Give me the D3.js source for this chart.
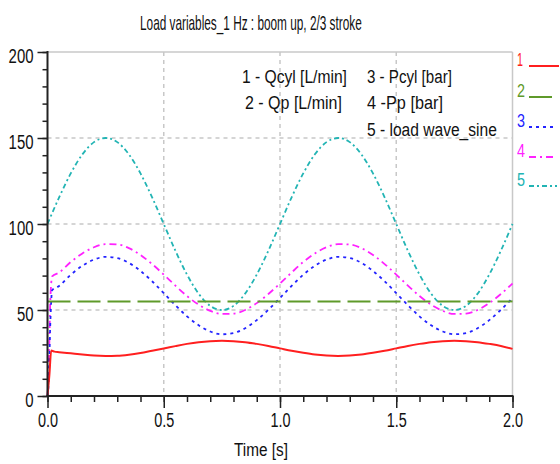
<!DOCTYPE html>
<html><head><meta charset="utf-8">
<script src="https://cdn.jsdelivr.net/npm/d3@7"></script>
<style>
html,body{margin:0;padding:0;background:#fff;}
svg{display:block;font-family:"Liberation Sans Narrow","Arial Narrow","Liberation Sans",Arial,sans-serif;}
</style></head>
<body><svg id="c" width="560" height="464"></svg>
<script>
const title = "Load variables_1 Hz : boom up, 2/3 stroke";
const xLabel = "Time [s]";
const xTicks = [0, 0.5, 1.0, 1.5, 2.0];
const yTicks = [0, 50, 100, 150, 200];
const legendIds = ["1","2","3","4","5"];
const seriesColors = ["#ff1f1f","#5f9a2a","#2323ff","#ff22ff","#22b4b4"];
const annotations = ["1 - Qcyl  [L/min]","2 - Qp  [L/min]","3 - Pcyl  [bar]","4 -Pp  [bar]","5 - load wave_sine"];

// sampled time axis (s)
const tMain = [0.05,0.1,0.15,0.2,0.25,0.3,0.35,0.4,0.45,0.5,0.55,0.6,0.65,0.7,0.75,0.8,0.85,0.9,0.95,1.0,
               1.05,1.1,1.15,1.2,1.25,1.3,1.35,1.4,1.45,1.5,1.55,1.6,1.65,1.7,1.75,1.8,1.85,1.9,1.95,2.0];
// 1 - Qcyl
const qcylT0 = [0, 0.008, 0.016, 0.03];
const qcylV0 = [0, 12, 26.5, 25.8];
const qcylV = [25.5,24.8,24.1,23.5,23.3,23.4,24.0,25.0,26.3,27.6,29.0,30.3,31.3,31.9,32.1,31.9,31.3,30.3,29.1,27.7,
               26.3,25.1,24.1,23.5,23.3,23.5,24.1,25.1,26.3,27.7,29.1,30.3,31.3,31.9,32.1,31.9,31.3,30.3,29.1,27.4];
// 2 - Qp
const qpT = [0, 2.0];
const qpV = [55, 55];
// 3 - Pcyl
const pcylT0 = [0, 0.005, 0.012, 0.02];
const pcylV0 = [0, 8, 42, 61.5];
const pcylV = [64.0,70.5,75.7,79.3,80.9,80.2,77.4,72.7,66.7,59.8,52.8,46.3,41.1,37.5,35.9,36.6,39.4,44.1,50.1,57.0,
               64.0,70.5,75.7,79.3,80.9,80.2,77.4,72.7,66.7,59.8,52.8,46.3,41.1,37.5,35.9,36.6,39.4,44.1,50.1,57.0];
// 4 - Pp
const ppT0 = [0, 0.006, 0.012, 0.02];
const ppV0 = [0, 20, 55, 69.5];
const ppV = [71.8,77.9,82.9,86.5,88.3,88.1,86.0,82.0,76.7,70.6,64.2,58.1,53.1,49.5,47.7,47.9,50.0,54.0,59.3,65.4,
             71.8,77.9,82.9,86.5,88.3,88.1,86.0,82.0,76.7,70.6,64.2,58.1,53.1,49.5,47.7,47.9,50.0,54.0,59.3,65.4];
// 5 - load wave_sine
const loadT0 = [0];
const loadV0 = [100];
const loadV = [115.5,129.4,140.5,147.6,150,147.6,140.5,129.4,115.5,100,84.5,70.6,59.5,52.4,50,52.4,59.5,70.6,84.5,100,
               115.5,129.4,140.5,147.6,150,147.6,140.5,129.4,115.5,100,84.5,70.6,59.5,52.4,50,52.4,59.5,70.6,84.5,100];

const svg = d3.select("#c");
const L = 47.5, R = 512.5, T = 52, B = 396;
const x = d3.scaleLinear().domain([0,2]).range([L,R]);
const y = d3.scaleLinear().domain([0,200]).range([B,T]);
const gridCol = "#c8c8c8";
const txtCol = "#111";
function narrowLen(s, digitW){ let w=0; for(const c of s){ w += (c==='.')?digitW*0.45:digitW; } return w; }
// place text horizontally condensed to a target width using a transform
function fitText(str, px, py, size, targetW, color){
  const t = svg.append("text").attr("font-size",size).attr("fill",color).text(str);
  const w = t.node().getComputedTextLength() || targetW;
  t.attr("transform",`translate(${px},${py}) scale(${targetW/w},1)`);
  return t;
}

// title
fitText(title, 140, 30, 20, 222, txtCol);

// grid
const g = svg.append("g");
yTicks.filter(v=>v>0).forEach(v=>{
  g.append("line").attr("x1",L).attr("x2",R).attr("y1",y(v)).attr("y2",y(v))
   .attr("stroke",gridCol).attr("stroke-width",1.5).attr("stroke-dasharray", v===200?null:"4,4");
});
xTicks.filter(v=>v>0).forEach(v=>{
  g.append("line").attr("y1",T).attr("y2",B).attr("x1",x(v)).attr("x2",x(v))
   .attr("stroke",gridCol).attr("stroke-width",1.5).attr("stroke-dasharray", v===2?null:"4,4");
});

// annotations
const annPos = [[242,83,105],[245,109,97],[367,83,85],[367,109,76],[367,136,130]];
annotations.forEach((s,i)=> fitText(s, annPos[i][0], annPos[i][1], 19, annPos[i][2], txtCol));

// series
const line = d3.line().x(d=>x(d[0])).y(d=>y(d[1])).curve(d3.curveMonotoneX);
function pts(t0,v0,t,v){ return t0.map((a,i)=>[a,v0[i]]).concat(t.map((a,i)=>[a,v[i]])); }
const series = [
  {d: pts(qcylT0,qcylV0,tMain,qcylV), dash:null},
  {d: qpT.map((a,i)=>[a,qpV[i]]), dash:"23,7"},
  {d: pts(pcylT0,pcylV0,tMain,pcylV), dash:"3,4"},
  {d: pts(ppT0,ppV0,tMain,ppV), dash:"7,4,2,4"},
  {d: pts(loadT0,loadV0,tMain,loadV), dash:"5,3,2,3"}
];
[4,3,2,1,0].forEach(i=>{
  svg.append("path").attr("d",line(series[i].d)).attr("fill","none")
    .attr("stroke",seriesColors[i]).attr("stroke-width",i===0||i===1?2:1.8)
    .attr("stroke-dasharray",series[i].dash);
});

// axes
const ax = svg.append("g").attr("transform",`translate(${L},0)`)
  .call(d3.axisLeft(y).tickValues(d3.range(0,201,10)).tickSize(5).tickFormat(""));
ax.select(".domain").remove();
const ax2 = svg.append("g").attr("transform",`translate(${L},0)`)
  .call(d3.axisLeft(y).tickValues(yTicks).tickSize(10).tickPadding(4).tickFormat(d3.format("d")));
ax2.select(".domain").remove();
ax2.selectAll("text").attr("font-size",20).attr("fill",txtCol).attr("dy","0.5em")
  .attr("textLength",d=>narrowLen(String(d),8.3)).attr("lengthAdjust","spacingAndGlyphs");
const bx = svg.append("g").attr("transform",`translate(0,${B})`)
  .call(d3.axisBottom(x).tickValues(d3.range(0,20.01,1).map(v=>v/10)).tickSize(6).tickFormat(""));
bx.select(".domain").remove();
const fx = d3.format(".1f");
const bx2 = svg.append("g").attr("transform",`translate(0,${B})`)
  .call(d3.axisBottom(x).tickValues(xTicks).tickSize(12).tickPadding(5).tickFormat(fx));
bx2.select(".domain").remove();
bx2.selectAll("text").attr("font-size",20).attr("fill",txtCol)
  .attr("textLength",d=>narrowLen(fx(d),8.2)).attr("lengthAdjust","spacingAndGlyphs");
svg.selectAll(".tick line").attr("stroke","#222").attr("stroke-width",1.5);
svg.append("line").attr("x1",L).attr("x2",L).attr("y1",T-1).attr("y2",B+1).attr("stroke","#222").attr("stroke-width",2);
svg.append("line").attr("x1",L-1).attr("x2",R+1).attr("y1",B).attr("y2",B).attr("stroke","#222").attr("stroke-width",2);

fitText(xLabel, 234, 456, 19, 54, txtCol);

// legend at right
const legY = [66,97,127,157,186];
const legEnd = [559,553,557,557,557];
legendIds.forEach((id,i)=>{
  fitText(id, 517, legY[i], 18, id==="1"?6:8, seriesColors[i]);
  svg.append("line").attr("x1",529).attr("x2",legEnd[i]).attr("y1",legY[i]).attr("y2",legY[i])
    .attr("stroke",seriesColors[i]).attr("stroke-width",2).attr("stroke-dasharray",series[i].dash);
});
</script></body></html>
